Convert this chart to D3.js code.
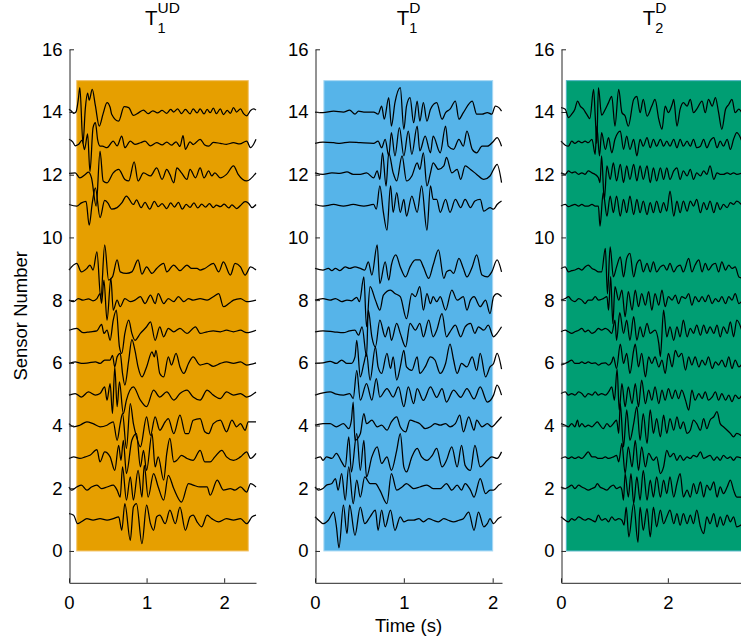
<!DOCTYPE html>
<html>
<head>
<meta charset="utf-8">
<script src="https://cdn.jsdelivr.net/npm/d3@7"></script>
<style>
body { margin: 0; background: #fff; }
text { font-family: "Liberation Sans", Arial, sans-serif; }
</style>
</head>
<body>
<script>
// sensors that have a trace (10 is missing)
var sensorNumbers = [1, 2, 3, 4, 5, 6, 7, 8, 9, 11, 12, 13, 14];
var yTicks = [0, 2, 4, 6, 8, 10, 12, 14, 16];
var xTicks = [[0, 1, 2], [0, 1, 2], [0, 2]];
var titleSub = ["1", "1", "2"];
var titleSup = ["UD", "D", "D"];
var timeMax = [2.41, 2.105, 3.5];
var windowStart = [0.1, 0.1, 0.1];
var windowEnd = [2.31, 2.0, 3.4];
var windowTop = 15;
var windowColors = ["#E69F00", "#56B4E9", "#009E73"];
var windowEdges = ["#f2c063", "#a9d9f4", "#4fb3c4"];

// traces: [time (s), offset from sensor number], one list per sensor in sensorNumbers order
var tracesUD = [
  [[0,.19],[.06,.14],[.11,-.13],[.16,-.07],[.23,.03],[.31,-.02],[.4,.03],[.49,-.02],[.57,.03],[.64,.09],[.68,-.34],[.72,.51],[.79,-.66],[.83,.4],[.87,.51],[.94,-.77],[1.0,.46],[1.05,-.13],[1.09,-.34],[1.13,.09],[1.17,.14],[1.24,-.13],[1.3,.3],[1.37,-.13],[1.43,.4],[1.5,-.34],[1.56,.09],[1.6,.14],[1.65,-.07],[1.71,-.23],[1.78,.14],[1.84,.03],[1.93,-.07],[2.03,.03],[2.12,-.02],[2.21,.03],[2.29,-.13],[2.36,.09],[2.41,.14]],
  [[0,.04],[.03,-.06],[.1,.04],[.16,.1],[.23,-.06],[.29,.04],[.36,.1],[.42,-.01],[.49,.04],[.57,.1],[.62,-.06],[.66,-.28],[.69,.68],[.74,-.38],[.79,.36],[.83,-.38],[.89,.57],[.94,-.28],[.97,.73],[1.02,-.28],[1.09,.47],[1.15,.04],[1.22,-.38],[1.28,.41],[1.35,-.01],[1.45,-.44],[1.54,.15],[1.6,.1],[1.69,.04],[1.78,.04],[1.82,-.22],[1.91,.26],[1.99,-.06],[2.08,-.01],[2.14,-.06],[2.21,.04],[2.29,-.12],[2.34,.15],[2.41,.04]],
  [[0,-.05],[.06,0],[.14,-.05],[.21,0],[.27,.05],[.36,.23],[.4,-.16],[.46,.16],[.53,0],[.59,-.43],[.64,.37],[.67,-.11],[.7,.53],[.74,-.53],[.81,.53],[.87,.74],[.92,-.32],[.96,.21],[1.0,-.43],[1.07,.74],[1.11,-.32],[1.15,0],[1.22,-.74],[1.26,.11],[1.3,.59],[1.35,-.16],[1.39,-.11],[1.45,.05],[1.52,-.05],[1.6,-.11],[1.69,.21],[1.75,-.16],[1.82,-.16],[1.88,0],[1.97,.21],[2.03,0],[2.12,-.11],[2.21,0],[2.29,.16],[2.34,-.05],[2.41,.11]],
  [[0,.06],[.06,-.04],[.14,.01],[.23,.12],[.31,.06],[.4,-.04],[.49,.01],[.57,.12],[.62,-.47],[.66,.06],[.69,.38],[.74,-.73],[.79,.7],[.83,.06],[.87,-.36],[.92,-.68],[1.0,.28],[1.05,-.31],[1.11,.28],[1.17,-.15],[1.24,.12],[1.28,.22],[1.35,-.26],[1.43,.33],[1.5,-.26],[1.54,-.26],[1.6,.17],[1.69,.22],[1.75,-.2],[1.8,-.26],[1.86,.06],[1.95,.17],[2.03,-.2],[2.1,.17],[2.16,-.04],[2.21,.06],[2.27,-.15],[2.31,.12],[2.41,.12]],
  [[0,-.03],[.08,.02],[.16,-.09],[.25,.07],[.34,-.03],[.4,.02],[.46,.23],[.49,-.19],[.53,.34],[.56,-.62],[.59,.87],[.62,-.4],[.65,.39],[.7,-.62],[.74,-.19],[.83,.23],[.92,-.19],[1.0,-.4],[1.09,.13],[1.17,-.09],[1.26,.07],[1.35,-.19],[1.43,.02],[1.52,.13],[1.6,-.09],[1.69,-.19],[1.78,.13],[1.86,-.03],[1.95,-.14],[2.03,.07],[2.12,-.03],[2.21,.02],[2.29,-.09],[2.41,.07]],
  [[0,-.02],[.08,.03],[.16,-.02],[.25,0],[.34,.03],[.4,-.02],[.46,.09],[.53,.09],[.56,.24],[.59,-.13],[.62,.19],[.66,.3],[.69,-.34],[.72,-.71],[.77,.09],[.81,.74],[.85,.4],[.89,-.13],[.94,-.45],[1.0,-.13],[1.07,.35],[1.1,.19],[1.12,.4],[1.17,-.34],[1.22,-.45],[1.28,.19],[1.32,-.07],[1.38,.3],[1.43,-.13],[1.48,-.34],[1.54,-.02],[1.6,.19],[1.69,-.07],[1.78,-.02],[1.86,-.11],[1.95,-.02],[2.03,.03],[2.12,-.02],[2.21,.03],[2.29,-.07],[2.41,0]],
  [[0,.04],[.1,.1],[.18,-.04],[.27,-.01],[.36,.02],[.42,.23],[.45,-.06],[.49,.04],[.53,-.28],[.57,.36],[.61,.68],[.65,-.49],[.68,-.7],[.72,-.06],[.77,.36],[.81,-.06],[.85,-.28],[.92,-.06],[1.0,.15],[1.05,.31],[1.11,-.28],[1.17,.15],[1.22,-.17],[1.28,.1],[1.35,-.01],[1.43,.1],[1.52,-.06],[1.63,.15],[1.69,-.06],[1.78,-.01],[1.86,.02],[1.95,-.01],[2.03,.04],[2.12,-.01],[2.21,.04],[2.29,-.04],[2.41,.04]],
  [[0,0],[.06,-.05],[.12,.05],[.18,0],[.25,.04],[.31,-.02],[.36,.05],[.4,.21],[.42,-.1],[.45,.64],[.49,-.64],[.54,.69],[.57,-.32],[.62,0],[.66,-.21],[.72,.05],[.79,-.05],[.85,0],[.92,.11],[.98,-.11],[1.05,.16],[1.11,-.11],[1.15,.21],[1.22,-.11],[1.28,.05],[1.35,-.05],[1.41,.11],[1.48,-.05],[1.54,.05],[1.6,0],[1.69,.05],[1.78,0],[1.86,.11],[1.93,.21],[1.99,-.21],[2.06,-.11],[2.12,0],[2.21,.05],[2.29,-.05],[2.41,0]],
  [[0,-.04],[.1,.17],[.16,-.1],[.23,.01],[.27,.12],[.31,-.04],[.36,.54],[.41,-.95],[.46,.76],[.51,-.36],[.56,-.26],[.62,.28],[.66,-.1],[.74,-.15],[.81,-.1],[.89,.28],[.94,-.17],[1.0,.06],[1.07,-.15],[1.13,.01],[1.22,.17],[1.26,-.1],[1.35,.12],[1.43,-.06],[1.52,.12],[1.58,.01],[1.65,.01],[1.69,-.04],[1.75,.01],[1.86,.17],[1.93,-.1],[1.99,.22],[2.08,-.2],[2.14,.17],[2.21,.06],[2.27,-.2],[2.34,.06],[2.41,-.04]],
  [[0,.05],[.1,0],[.16,.1],[.22,.15],[.26,-.61],[.3,.1],[.34,.58],[.4,-.37],[.46,.18],[.5,.1],[.55,-.1],[.62,-.05],[.68,.1],[.74,.32],[.83,.05],[.87,.2],[.93,-.05],[.98,.12],[1.04,-.1],[1.1,.15],[1.15,-.02],[1.2,.08],[1.26,-.08],[1.31,.1],[1.36,-.03],[1.41,.12],[1.46,-.1],[1.51,.05],[1.56,-.04],[1.61,.1],[1.66,-.06],[1.71,.06],[1.76,-.03],[1.81,.08],[1.86,-.05],[1.9,.03],[1.95,-.02],[2.0,.06],[2.06,-.06],[2.1,.04],[2.16,-.08],[2.21,.02],[2.27,.14],[2.31,.1],[2.36,-.05],[2.41,.05]],
  [[0,.04],[.08,.06],[.14,-.1],[.21,.01],[.25,.08],[.29,-.1],[.35,-1.0],[.4,.75],[.44,-.2],[.49,-.26],[.57,.06],[.64,.17],[.72,-.15],[.77,-.2],[.84,.41],[.89,-.2],[.96,.06],[1.05,-.04],[1.13,.22],[1.2,-.15],[1.26,.17],[1.3,.01],[1.35,-.26],[1.39,.22],[1.45,.06],[1.52,-.15],[1.56,.17],[1.63,-.1],[1.69,.22],[1.74,-.1],[1.8,.12],[1.84,-.04],[1.88,.06],[1.95,-.1],[2.03,.01],[2.12,.28],[2.18,.01],[2.29,-.2],[2.41,.06]],
  [[0,.13],[.05,.04],[.08,-.08],[.12,-.04],[.17,.1],[.2,-.2],[.24,.3],[.27,-.9],[.31,.5],[.34,.66],[.37,.1],[.4,-.09],[.43,-.09],[.49,-.14],[.57,.07],[.62,-.08],[.68,.23],[.72,-.14],[.79,.07],[.85,-.03],[.92,.02],[.98,.07],[1.05,-.08],[1.13,.02],[1.2,-.05],[1.26,.04],[1.32,-.06],[1.38,.05],[1.43,-.1],[1.47,.25],[1.5,-.19],[1.56,.05],[1.6,-.04],[1.69,.13],[1.75,-.05],[1.8,-.09],[1.86,.03],[1.95,0],[2.03,-.03],[2.12,.02],[2.2,-.02],[2.29,.07],[2.34,-.14],[2.41,.13]],
  [[0,.09],[.03,.03],[.06,-.04],[.09,0],[.12,.4],[.14,.78],[.18,-1.0],[.21,.1],[.24,.6],[.26,.38],[.3,.72],[.34,.2],[.39,-.45],[.44,-.05],[.49,.3],[.53,.15],[.55,-.07],[.64,-.29],[.71,.17],[.77,.14],[.83,-.11],[.9,-.02],[.96,.06],[1.02,-.05],[1.08,.04],[1.14,-.03],[1.2,.05],[1.26,-.04],[1.31,.08],[1.35,0],[1.4,.1],[1.45,-.05],[1.5,.08],[1.56,-.06],[1.6,.1],[1.65,-.03],[1.69,.1],[1.74,-.06],[1.78,.08],[1.82,-.02],[1.86,.12],[1.9,-.05],[1.95,.1],[1.99,-.08],[2.04,.05],[2.08,-.04],[2.12,.14],[2.16,0],[2.21,.1],[2.25,-.05],[2.29,-.12],[2.34,.05],[2.38,.1],[2.41,.06]]
];

var tracesD1 = [
  [[0,.09],[.06,-.07],[.09,-.13],[.15,-.02],[.21,.24],[.24,-.2],[.27,-.9],[.32,.46],[.36,-.45],[.39,.46],[.45,-.5],[.51,.4],[.56,-.13],[.62,.09],[.68,.3],[.71,-.34],[.75,.3],[.79,-.23],[.85,.3],[.9,-.34],[.96,.09],[1.0,-.07],[1.05,-.02],[1.11,-.02],[1.17,.03],[1.22,-.07],[1.28,.03],[1.33,-.02],[1.39,-.07],[1.45,.03],[1.5,-.02],[1.56,-.07],[1.62,-.02],[1.67,.03],[1.73,.24],[1.79,-.34],[1.84,.24],[1.9,-.23],[1.94,-.13],[1.97,.03],[2.01,-.13],[2.06,.03],[2.1,.09]],
  [[0,.04],[.04,-.06],[.09,-.01],[.13,.1],[.19,.15],[.23,.31],[.26,-.06],[.3,.47],[.34,-.38],[.38,.68],[.43,-.49],[.47,.26],[.51,-.28],[.56,.36],[.62,.15],[.68,.15],[.73,-.06],[.81,-.49],[.86,.47],[.92,-.06],[.98,.04],[1.03,.15],[1.11,-.01],[1.18,.04],[1.26,.1],[1.33,-.01],[1.41,-.01],[1.48,.15],[1.54,-.06],[1.6,.1],[1.65,-.06],[1.69,.15],[1.75,-.06],[1.79,-.28],[1.86,.31],[1.92,-.17],[1.97,-.06],[2.01,-.06],[2.07,.1],[2.1,.15]],
  [[0,-.05],[.06,0],[.09,-.11],[.13,0],[.19,-.05],[.24,.11],[.3,-.16],[.34,-.32],[.38,.64],[.41,-.48],[.47,.74],[.51,-.43],[.55,.53],[.58,-.64],[.64,0],[.7,.32],[.75,-.21],[.81,0],[.86,-.43],[.92,.21],[.96,.74],[1.0,-.32],[1.03,-.48],[1.09,0],[1.15,.27],[1.2,0],[1.26,-.11],[1.32,.05],[1.37,.27],[1.43,-.32],[1.48,-.11],[1.54,.32],[1.6,-.32],[1.65,.37],[1.69,-.27],[1.75,-.43],[1.8,.37],[1.86,-.32],[1.94,-.11],[1.99,0],[2.05,-.05],[2.1,.16]],
  [[0,.01],[.09,.06],[.17,.06],[.24,-.04],[.32,.06],[.38,-.1],[.41,.17],[.43,.75],[.45,-.47],[.51,-.26],[.55,.38],[.58,.06],[.64,.17],[.7,-.04],[.75,.01],[.81,-.15],[.86,.12],[.92,.28],[.96,-.04],[1.02,-.2],[1.07,.17],[1.13,.12],[1.18,.06],[1.24,-.1],[1.3,-.04],[1.35,.06],[1.41,.01],[1.47,.06],[1.52,-.04],[1.58,.06],[1.63,.33],[1.67,-.2],[1.73,.28],[1.79,-.15],[1.82,.17],[1.88,-.04],[1.94,.06],[1.99,-.04],[2.05,.12],[2.1,.28]],
  [[0,-.03],[.09,.04],[.17,.07],[.24,0],[.32,-.03],[.39,.02],[.43,-.14],[.47,.76],[.51,-.19],[.58,.34],[.64,-.19],[.69,.5],[.73,-.09],[.81,.18],[.88,-.09],[.94,.23],[1.0,-.4],[1.05,.23],[1.11,-.3],[1.15,.18],[1.22,-.2],[1.3,.23],[1.37,-.1],[1.43,.18],[1.48,-.25],[1.56,.13],[1.64,-.1],[1.71,.18],[1.79,-.15],[1.86,.23],[1.94,-.25],[2.01,-.03],[2.05,.29],[2.1,-.03]],
  [[0,-.02],[.09,0],[.17,.05],[.24,-.02],[.3,.09],[.36,-.02],[.41,-.02],[.45,.19],[.47,.72],[.51,-.45],[.55,-.02],[.58,.3],[.62,-.55],[.68,.51],[.71,-.13],[.75,-.34],[.81,.3],[.85,-.18],[.88,.19],[.92,-.55],[.96,-.13],[1.0,.4],[1.03,-.13],[1.09,-.24],[1.15,.19],[1.18,-.34],[1.24,-.13],[1.3,.19],[1.35,.09],[1.41,-.34],[1.47,-.02],[1.52,.6],[1.56,.09],[1.6,-.34],[1.65,-.02],[1.71,-.13],[1.77,.19],[1.82,-.24],[1.86,.3],[1.92,-.45],[1.97,-.13],[2.01,-.02],[2.05,.3],[2.1,-.2]],
  [[0,-.01],[.09,.02],[.21,-.01],[.32,-.04],[.39,.02],[.45,.04],[.49,-.12],[.53,.15],[.58,-.8],[.6,.68],[.64,-.17],[.68,-.49],[.73,.36],[.79,-.17],[.83,.15],[.86,-.28],[.92,.26],[.96,-.06],[1.02,-.49],[1.07,.26],[1.13,.04],[1.18,.26],[1.22,-.17],[1.28,.36],[1.33,-.17],[1.37,.04],[1.43,.57],[1.48,-.17],[1.52,-.01],[1.58,.2],[1.64,-.17],[1.69,.15],[1.75,.26],[1.8,-.06],[1.84,.15],[1.9,.04],[1.95,.2],[2.01,-.17],[2.05,-.06],[2.1,.15]],
  [[0,0],[.09,.05],[.17,0],[.23,.05],[.3,-.05],[.36,0],[.41,-.02],[.47,.09],[.5,-.05],[.55,.74],[.58,-.85],[.62,.43],[.68,0],[.73,-.32],[.77,.16],[.85,.32],[.9,.21],[.96,.11],[1.03,-.59],[1.09,.21],[1.13,.11],[1.18,.43],[1.22,-.32],[1.26,.21],[1.3,-.11],[1.33,.11],[1.37,-.05],[1.41,.11],[1.47,-.32],[1.54,.32],[1.6,0],[1.67,.11],[1.71,-.32],[1.75,0],[1.79,.11],[1.86,-.21],[1.92,0],[1.97,-.43],[2.01,.11],[2.05,.21],[2.1,.11]],
  [[0,.01],[.09,-.04],[.15,.01],[.19,-.06],[.23,.01],[.28,-.06],[.34,.06],[.39,.01],[.45,.06],[.51,.01],[.56,-.04],[.6,.22],[.64,-.2],[.7,.76],[.73,-.47],[.79,.22],[.83,-.36],[.86,.12],[.91,.44],[.96,.06],[1.02,-.26],[1.07,.06],[1.13,.28],[1.18,.28],[1.22,.06],[1.28,-.31],[1.33,.12],[1.39,.6],[1.45,-.31],[1.48,-.1],[1.52,-.04],[1.56,-.15],[1.62,.33],[1.67,.01],[1.71,-.26],[1.77,.06],[1.82,.44],[1.88,-.2],[1.94,-.26],[1.99,-.1],[2.05,.28],[2.1,-.1]],
  [[0,.05],[.09,0],[.21,.05],[.32,0],[.43,.05],[.55,0],[.66,.05],[.69,-.1],[.73,.64],[.77,-.2],[.81,-.77],[.85,.64],[.88,-.2],[.92,.43],[.96,-.2],[1.0,.21],[1.03,-.32],[1.09,.32],[1.15,-.2],[1.2,.64],[1.26,-.77],[1.3,.64],[1.33,.21],[1.37,.21],[1.41,-.2],[1.47,.21],[1.52,-.2],[1.58,.21],[1.64,-.05],[1.69,.21],[1.75,-.05],[1.8,.16],[1.86,.21],[1.9,-.16],[1.97,-.05],[2.01,-.1],[2.05,.05],[2.1,.16]],
  [[0,.06],[.09,.01],[.19,.06],[.28,.04],[.36,.09],[.43,.01],[.51,.01],[.58,.06],[.66,-.1],[.7,.12],[.73,-.15],[.76,.7],[.8,-.36],[.83,.7],[.88,.06],[.92,-.2],[.98,.6],[1.03,-.2],[1.09,-.04],[1.15,.38],[1.18,.17],[1.22,.7],[1.26,-.36],[1.3,.06],[1.33,.38],[1.39,.17],[1.45,.28],[1.48,.55],[1.54,.06],[1.6,.17],[1.64,-.15],[1.69,.28],[1.75,.17],[1.82,.01],[1.9,-.15],[1.97,-.04],[2.01,.17],[2.05,.33],[2.1,-.25]],
  [[0,0],[.09,.04],[.21,.02],[.28,0],[.39,.04],[.51,.02],[.66,0],[.71,.07],[.75,-.14],[.79,.13],[.83,-.4],[.86,.34],[.9,-.4],[.95,.5],[1.0,-.4],[1.05,.39],[1.09,-.35],[1.15,.55],[1.18,-.24],[1.24,.23],[1.3,-.3],[1.33,.23],[1.41,-.3],[1.47,.55],[1.5,-.09],[1.56,-.19],[1.62,.13],[1.67,-.09],[1.71,.39],[1.77,-.19],[1.82,-.3],[1.88,-.09],[1.94,-.09],[2.01,.07],[2.05,.18],[2.1,-.09]],
  [[0,0],[.09,-.02],[.21,.03],[.32,0],[.39,.06],[.45,-.07],[.49,.03],[.55,0],[.66,0],[.71,-.07],[.75,.19],[.78,-.23],[.83,.46],[.86,-.45],[.9,.3],[.96,.78],[1.0,-.55],[1.03,.19],[1.07,.46],[1.11,-.34],[1.15,.35],[1.18,-.29],[1.22,.3],[1.26,-.29],[1.3,.09],[1.37,.3],[1.43,-.23],[1.47,-.02],[1.52,.09],[1.58,.35],[1.62,-.23],[1.67,-.02],[1.77,.35],[1.82,-.07],[1.88,-.07],[1.94,-.02],[1.99,-.07],[2.03,.19],[2.07,.14],[2.1,.03]]
];

var tracesD2 = [
  [[0,.09],[.08,-.02],[.14,-.07],[.2,.03],[.26,-.02],[.33,.09],[.39,.03],[.45,-.02],[.51,.03],[.58,-.02],[.64,-.07],[.7,.14],[.76,-.02],[.83,.03],[.89,-.07],[.95,.09],[1.01,-.02],[1.08,.03],[1.14,-.02],[1.18,-.18],[1.22,.4],[1.27,-.55],[1.36,.51],[1.44,-.72],[1.48,.4],[1.54,-.34],[1.61,.35],[1.67,-.55],[1.73,.4],[1.79,-.23],[1.86,.3],[1.92,-.13],[1.98,.09],[2.04,.3],[2.11,-.13],[2.17,.19],[2.23,-.18],[2.29,.19],[2.36,-.13],[2.42,.14],[2.48,-.13],[2.54,.3],[2.61,-.23],[2.67,-.45],[2.73,.09],[2.79,-.13],[2.86,.19],[2.92,-.23],[2.98,.09],[3.04,-.18],[3.11,.14],[3.17,-.07],[3.23,.09],[3.29,-.23],[3.4,-.13]],
  [[0,.04],[.08,-.01],[.14,.04],[.2,.1],[.26,-.01],[.33,.1],[.39,.04],[.45,-.01],[.51,-.06],[.58,-.01],[.64,.04],[.68,.15],[.73,.04],[.79,-.01],[.86,-.06],[.92,.04],[.98,.1],[1.04,-.01],[1.11,.04],[1.14,-.06],[1.17,-.38],[1.2,.47],[1.26,-.28],[1.31,.47],[1.36,-.49],[1.42,.36],[1.48,-.38],[1.54,.57],[1.61,-.38],[1.67,.26],[1.73,-.28],[1.79,.36],[1.86,-.28],[1.92,.26],[1.98,-.17],[2.04,.36],[2.11,-.28],[2.17,.15],[2.23,.47],[2.29,-.28],[2.36,-.06],[2.42,-.28],[2.48,.15],[2.54,-.17],[2.61,.2],[2.67,-.28],[2.73,.1],[2.79,-.06],[2.86,.2],[2.92,-.28],[2.98,.04],[3.04,-.17],[3.11,.04],[3.17,.26],[3.23,-.06],[3.29,-.28],[3.4,-.28]],
  [[0,-.05],[.08,0],[.14,-.05],[.2,0],[.26,-.05],[.33,0],[.39,-.05],[.45,.05],[.51,.16],[.58,0],[.64,0],[.7,-.05],[.76,-.05],[.83,0],[.89,-.05],[.98,0],[1.04,.05],[1.08,-.16],[1.14,.43],[1.2,-.53],[1.26,.32],[1.33,-.32],[1.39,.53],[1.45,-.43],[1.51,.32],[1.58,-.32],[1.64,.11],[1.73,-.11],[1.79,0],[1.86,-.53],[1.92,-.32],[1.98,.21],[2.04,0],[2.11,.11],[2.17,-.11],[2.23,.05],[2.29,-.11],[2.36,0],[2.42,-.05],[2.48,.05],[2.54,0],[2.61,.16],[2.67,-.05],[2.73,0],[2.79,.05],[2.86,-.11],[2.92,0],[2.98,-.11],[3.04,.05],[3.11,-.05],[3.17,0],[3.23,-.11],[3.29,0],[3.4,-.05]],
  [[0,.06],[.08,.01],[.14,-.04],[.2,.06],[.26,-.04],[.31,.17],[.34,-.04],[.39,.06],[.45,-.04],[.51,.01],[.58,-.04],[.64,.06],[.68,.12],[.73,.01],[.79,-.1],[.86,.06],[.92,-.04],[.98,.06],[1.04,.17],[1.08,-.25],[1.11,.7],[1.17,-.68],[1.23,.5],[1.29,-.47],[1.36,.06],[1.42,.6],[1.48,-.47],[1.54,.38],[1.61,-.57],[1.67,.5],[1.73,-.25],[1.79,.22],[1.86,-.36],[1.92,.33],[1.98,-.25],[2.04,.22],[2.11,-.15],[2.17,.28],[2.23,-.1],[2.29,.12],[2.36,-.25],[2.42,-.15],[2.48,.17],[2.54,.06],[2.61,-.15],[2.67,.22],[2.73,-.1],[2.79,.17],[2.86,.28],[2.92,.44],[2.98,.06],[3.04,-.04],[3.11,-.15],[3.17,-.25],[3.23,-.36],[3.29,-.25],[3.4,-.36]],
  [[0,.02],[.08,.07],[.14,-.03],[.2,.02],[.26,-.03],[.33,.07],[.39,.02],[.45,-.09],[.51,.02],[.58,-.03],[.64,.07],[.7,-.03],[.76,.02],[.83,-.03],[.89,.07],[.95,.23],[1.0,-.19],[1.05,.8],[1.09,-.51],[1.14,.34],[1.2,-.4],[1.26,.23],[1.33,-.3],[1.39,.34],[1.45,-.4],[1.51,.45],[1.58,-.3],[1.64,.13],[1.7,-.19],[1.76,.23],[1.83,-.3],[1.89,.13],[1.95,-.19],[2.01,.18],[2.08,-.14],[2.14,.13],[2.2,-.14],[2.26,.13],[2.33,-.19],[2.39,-.51],[2.45,.13],[2.51,-.19],[2.58,.02],[2.64,-.14],[2.7,.07],[2.76,-.19],[2.83,-.09],[2.89,.07],[2.95,-.19],[3.01,.02],[3.08,-.19],[3.14,-.03],[3.2,-.24],[3.26,-.03],[3.33,-.14],[3.4,.02]],
  [[0,-.07],[.08,-.02],[.14,.03],[.2,.09],[.26,-.02],[.33,-.02],[.39,.03],[.45,-.02],[.51,.03],[.58,-.02],[.64,0],[.7,-.07],[.76,-.02],[.83,0],[.89,-.07],[.95,.03],[.98,.19],[1.04,-.18],[1.11,.6],[1.17,-.02],[1.23,.3],[1.29,-.34],[1.36,.4],[1.39,.6],[1.45,-.13],[1.51,.3],[1.58,-.45],[1.64,.19],[1.7,-.02],[1.76,.19],[1.83,-.13],[1.89,.09],[1.95,-.34],[2.01,.3],[2.08,-.13],[2.14,.4],[2.2,.19],[2.26,.3],[2.33,-.23],[2.39,.19],[2.45,-.07],[2.51,.19],[2.58,-.13],[2.64,.09],[2.7,-.07],[2.76,.19],[2.83,-.18],[2.89,.03],[2.95,-.07],[3.01,.09],[3.08,-.13],[3.14,.19],[3.2,-.18],[3.26,.09],[3.33,-.13],[3.4,0]],
  [[0,-.01],[.08,.04],[.14,-.01],[.2,-.06],[.26,-.01],[.33,.04],[.39,.1],[.45,-.01],[.51,.04],[.58,-.06],[.64,-.01],[.7,.1],[.76,.04],[.83,.1],[.89,.04],[.95,-.06],[1.01,.36],[1.04,-.28],[1.1,.6],[1.17,-.06],[1.23,.36],[1.29,-.28],[1.36,.47],[1.42,-.28],[1.48,.15],[1.54,-.17],[1.61,.26],[1.67,-.06],[1.76,.04],[1.83,-.38],[1.86,-.8],[1.92,.68],[1.98,-.17],[2.04,.15],[2.11,-.28],[2.17,.15],[2.23,-.17],[2.29,.36],[2.36,-.17],[2.42,.1],[2.48,-.06],[2.54,.2],[2.61,-.12],[2.67,.2],[2.73,-.06],[2.79,.15],[2.86,-.06],[2.92,.2],[2.98,-.17],[3.04,.15],[3.11,-.06],[3.17,.31],[3.23,-.17],[3.29,.36],[3.4,-.06]],
  [[0,0],[.08,.05],[.14,.11],[.2,0],[.26,-.05],[.33,.05],[.39,0],[.45,-.11],[.51,0],[.58,0],[.64,.11],[.7,0],[.79,.05],[.86,.11],[.89,-.32],[.93,.75],[.97,-.75],[1.01,.43],[1.08,0],[1.14,.32],[1.2,-.53],[1.26,.27],[1.33,-.32],[1.39,.32],[1.45,-.21],[1.51,.21],[1.58,-.16],[1.64,.27],[1.7,-.32],[1.76,.21],[1.83,-.16],[1.89,.32],[1.95,-.21],[2.01,.11],[2.08,0],[2.14,.16],[2.2,-.11],[2.26,.11],[2.33,.05],[2.39,.21],[2.45,-.16],[2.51,.11],[2.58,-.05],[2.64,.11],[2.7,-.05],[2.76,.16],[2.83,-.11],[2.89,.05],[2.95,-.05],[3.01,.11],[3.08,-.11],[3.14,.11],[3.2,0],[3.26,.21],[3.33,-.11],[3.4,0]],
  [[0,.01],[.08,.06],[.14,-.1],[.2,-.06],[.26,-.04],[.33,.01],[.39,-.04],[.45,.06],[.51,.12],[.58,.01],[.64,-.04],[.7,-.1],[.76,-.1],[.83,.65],[.87,-.8],[.92,.7],[.98,-.26],[1.04,.06],[1.11,.38],[1.17,-.26],[1.23,.33],[1.29,.49],[1.36,-.26],[1.42,.17],[1.48,.28],[1.54,-.1],[1.61,.17],[1.67,-.1],[1.73,.22],[1.79,-.1],[1.86,.06],[1.92,.12],[1.98,-.04],[2.04,.17],[2.11,-.1],[2.17,.06],[2.23,.12],[2.29,-.1],[2.39,.33],[2.45,-.1],[2.51,.12],[2.58,.28],[2.64,-.1],[2.7,.17],[2.76,-.04],[2.83,.12],[2.89,.17],[2.95,-.1],[3.01,.22],[3.08,-.04],[3.14,.12],[3.2,.01],[3.26,.06],[3.33,-.26],[3.4,-.3]],
  [[0,0],[.08,.05],[.14,-.02],[.2,.02],[.26,.05],[.33,0],[.39,.05],[.45,0],[.51,0],[.58,.05],[.64,0],[.7,0],[.73,-.64],[.79,.43],[.86,-.32],[.92,.32],[.98,-.21],[1.04,.32],[1.11,-.32],[1.17,.21],[1.23,-.21],[1.29,.32],[1.36,-.27],[1.42,.21],[1.48,-.21],[1.54,.16],[1.61,-.27],[1.67,.11],[1.73,-.21],[1.79,.16],[1.86,-.21],[1.92,.11],[1.98,-.16],[2.04,.48],[2.11,-.32],[2.17,.16],[2.23,-.21],[2.29,.16],[2.36,-.16],[2.42,.16],[2.48,0],[2.54,.21],[2.61,-.21],[2.67,.11],[2.73,-.11],[2.79,.16],[2.86,-.21],[2.92,.11],[2.98,-.11],[3.04,.05],[3.11,-.05],[3.17,.11],[3.23,.05],[3.29,.16],[3.4,0]],
  [[0,.06],[.08,.01],[.14,.12],[.2,.06],[.26,.09],[.33,.01],[.39,.06],[.45,.01],[.51,.12],[.58,.06],[.64,.01],[.7,-.1],[.73,-.25],[.76,.6],[.81,-.8],[.86,.28],[.92,-.15],[.98,.38],[1.04,-.2],[1.11,.33],[1.17,-.25],[1.23,.28],[1.29,-.15],[1.36,.33],[1.42,-.2],[1.48,.28],[1.54,-.15],[1.61,.28],[1.67,-.25],[1.73,.22],[1.79,-.2],[1.86,.22],[1.92,-.15],[1.98,.22],[2.04,-.15],[2.11,.12],[2.17,.22],[2.23,-.15],[2.29,.12],[2.36,-.04],[2.42,.17],[2.48,-.15],[2.54,.06],[2.61,-.04],[2.67,.12],[2.73,.01],[2.79,.28],[2.86,-.15],[2.92,.06],[2.98,.01],[3.04,.01],[3.11,.06],[3.17,.01],[3.23,.06],[3.29,.01],[3.4,.06]],
  [[0,.07],[.08,-.06],[.14,-.09],[.2,.07],[.26,0],[.33,.07],[.39,.02],[.45,.07],[.51,.02],[.58,.13],[.64,-.35],[.67,.55],[.72,-.4],[.76,.34],[.83,-.19],[.89,.18],[.95,-.3],[1.01,.13],[1.11,.39],[1.17,-.19],[1.23,.23],[1.29,-.19],[1.36,.13],[1.42,-.4],[1.48,.13],[1.54,-.09],[1.61,.18],[1.67,-.14],[1.73,.13],[1.79,-.09],[1.86,.13],[1.92,-.09],[1.98,.07],[2.04,-.09],[2.11,.13],[2.17,-.14],[2.23,.13],[2.29,-.09],[2.36,.07],[2.42,-.09],[2.48,.13],[2.54,-.14],[2.61,-.09],[2.67,.13],[2.73,-.14],[2.79,.07],[2.86,.18],[2.92,-.14],[2.98,.07],[3.04,-.09],[3.11,.13],[3.17,-.19],[3.23,.13],[3.29,.34],[3.4,0]],
  [[0,.14],[.08,.09],[.14,-.18],[.2,-.07],[.26,.09],[.31,.35],[.36,.19],[.42,.09],[.48,-.07],[.54,-.21],[.61,.72],[.64,-.1],[.67,-1.0],[.7,.78],[.76,-.1],[.83,.09],[.89,.3],[.95,.5],[1.01,-.45],[1.08,.72],[1.14,-.02],[1.2,-.13],[1.26,-.45],[1.36,.4],[1.42,.5],[1.48,-.02],[1.54,.4],[1.61,-.13],[1.7,.19],[1.76,.4],[1.83,-.23],[1.89,-.55],[1.95,.19],[2.01,-.02],[2.08,.24],[2.11,.4],[2.17,-.45],[2.23,.09],[2.29,.3],[2.36,.19],[2.42,.4],[2.48,-.02],[2.54,.09],[2.64,.35],[2.7,-.02],[2.76,.4],[2.83,.19],[2.89,.46],[2.95,-.02],[3.01,-.55],[3.08,.09],[3.14,.24],[3.2,.4],[3.26,-.02],[3.33,.09],[3.4,-.07]]
];

var panelTraces = [tracesUD, tracesD1, tracesD2];

let outerWidth = 741;
let outerHeight = 640;
let panelLeft = [69, 315, 561];
let panelWidth = 187;
let plotTop = 49.3;
let plotBottom = 582.3;
let tickFont = 18.5;
let axisColor = "#262626";

let svg = d3.select("body")
    .append("svg")
    .attr("width", outerWidth)
    .attr("height", outerHeight);

let yScale = d3.scaleLinear()
    .domain([-1, 16])
    .range([plotBottom, plotTop]);

panelTraces.forEach(function(traces, i) {
    let g = svg.append("g")
        .attr("transform", "translate(" + panelLeft[i] + ",0)");

    let xScale = d3.scaleLinear()
        .domain([0, timeMax[i]])
        .range([0, panelWidth]);

    // coloured time window
    g.append("rect")
        .attr("x", xScale(windowStart[i]))
        .attr("y", yScale(windowTop))
        .attr("width", xScale(windowEnd[i]) - xScale(windowStart[i]))
        .attr("height", yScale(0) - yScale(windowTop))
        .attr("fill", windowColors[i])
        .attr("stroke", windowEdges[i])
        .attr("stroke-width", 1);

    // one wiggle per sensor
    sensorNumbers.forEach(function(s, k) {
        let line = d3.line()
            .x(function(d) { return xScale(d[0]); })
            .y(function(d) { return yScale(s + d[1]); })
            .curve(d3.curveMonotoneX);

        g.append("path")
            .attr("d", line(traces[k]))
            .attr("fill", "none")
            .attr("stroke", "#000")
            .attr("stroke-width", 1.25)
            .attr("stroke-linejoin", "round");
    });

    // axes, ticks pointing inward
    let yAxis = g.append("g")
        .attr("transform", "translate(0.5,0)")
        .call(d3.axisLeft(yScale).tickValues(yTicks).tickSize(-4.5).tickSizeOuter(0).tickPadding(7));

    let xAxis = g.append("g")
        .attr("transform", "translate(0," + (plotBottom + 0.5) + ")")
        .call(d3.axisBottom(xScale).tickValues(xTicks[i]).tickSize(-4.5).tickSizeOuter(0).tickPadding(12.9)
            .tickFormat(d3.format("d")));

    [yAxis, xAxis].forEach(function(ax) {
        ax.attr("font-size", tickFont)
            .attr("font-family", "'Liberation Sans', Arial, sans-serif")
            .attr("color", axisColor);
        ax.selectAll("text").attr("fill", "#000");
    });

    // title T with sub- and superscript
    let cx = panelLeft[i] + panelWidth / 2;
    let tMain = svg.append("text").attr("y", 25).attr("font-size", 20.5).text("T");
    let tSub = svg.append("text").attr("y", 33.3).attr("font-size", 14.5).text(titleSub[i]);
    let tSup = svg.append("text").attr("y", 13.3).attr("font-size", 15.5).text(titleSup[i]);
    let wMain = tMain.node().getComputedTextLength();
    let wScript = Math.max(tSub.node().getComputedTextLength(), tSup.node().getComputedTextLength());
    let x0 = cx - (wMain + wScript) / 2;
    tMain.attr("x", x0);
    tSub.attr("x", x0 + wMain);
    tSup.attr("x", x0 + wMain);
});

svg.append("text")
    .attr("x", panelLeft[1] + panelWidth / 2)
    .attr("y", 631.5)
    .attr("font-size", tickFont)
    .style("text-anchor", "middle")
    .text("Time (s)");

svg.append("text")
    .attr("transform", "translate(26.5," + ((plotTop + plotBottom) / 2) + ") rotate(-90)")
    .attr("font-size", tickFont)
    .style("text-anchor", "middle")
    .text("Sensor Number");
</script>
</body>
</html>
